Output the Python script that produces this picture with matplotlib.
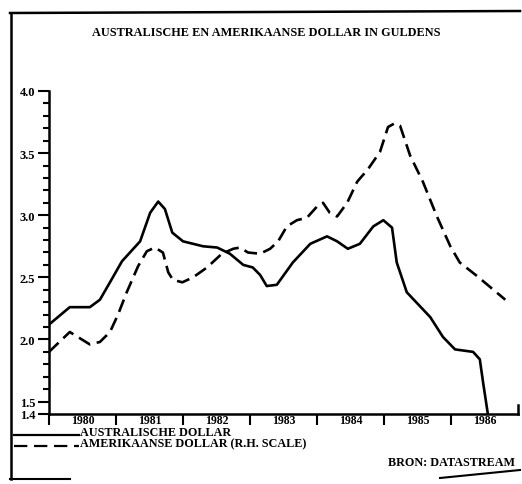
import matplotlib
matplotlib.use('Agg')
import matplotlib.pyplot as plt
from matplotlib.lines import Line2D

# data (year, guilders)
aud_years = [1980.00, 1980.31, 1980.61, 1980.76, 1980.91, 1981.09, 1981.36, 1981.51, 1981.63,
             1981.73, 1981.84, 1982.00, 1982.30, 1982.51, 1982.70, 1982.90, 1983.04, 1983.15,
             1983.25, 1983.40, 1983.64, 1983.90, 1984.15, 1984.30, 1984.46, 1984.64, 1984.84,
             1984.99, 1985.12, 1985.19, 1985.34, 1985.69, 1985.88, 1986.06, 1986.33, 1986.43,
             1986.48, 1986.55]
aud_vals = [2.12, 2.26, 2.26, 2.32, 2.46, 2.63, 2.79, 3.02, 3.11,
            3.05, 2.86, 2.79, 2.75, 2.74, 2.69, 2.60, 2.58, 2.52,
            2.43, 2.44, 2.62, 2.77, 2.83, 2.79, 2.73, 2.77, 2.91,
            2.96, 2.90, 2.62, 2.38, 2.18, 2.02, 1.92, 1.90, 1.84,
            1.65, 1.40]

usd_years = [1980.00, 1980.31, 1980.61, 1980.76, 1980.91, 1981.03, 1981.16, 1981.33, 1981.46,
             1981.58, 1981.70, 1981.78, 1981.85, 1981.99, 1982.15, 1982.36, 1982.58, 1982.75,
             1982.85, 1982.97, 1983.15, 1983.30, 1983.42, 1983.55, 1983.70, 1983.85, 1984.00,
             1984.09, 1984.19, 1984.30, 1984.45, 1984.60, 1984.76, 1984.94, 1985.06, 1985.16,
             1985.24, 1985.39, 1985.58, 1985.79, 1985.99, 1986.13, 1986.39, 1986.81]
usd_vals = [1.90, 2.06, 1.96, 1.98, 2.06, 2.20, 2.38, 2.59, 2.71,
            2.74, 2.70, 2.54, 2.48, 2.46, 2.50, 2.58, 2.69, 2.73,
            2.74, 2.70, 2.69, 2.73, 2.79, 2.91, 2.96, 2.98, 3.07,
            3.10, 3.02, 2.99, 3.10, 3.27, 3.37, 3.51, 3.71, 3.74,
            3.72, 3.48, 3.27, 2.99, 2.75, 2.62, 2.51, 2.32]

year_labels = ['1980', '1981', '1982', '1983', '1984', '1985', '1986']
ytick_vals = [1.4, 1.5, 2.0, 2.5, 3.0, 3.5, 4.0]

plt.rcParams['font.family'] = ['Liberation Serif', 'DejaVu Serif']

fig = plt.figure(figsize=(5.22, 4.85), dpi=100)
ax = fig.add_axes([49/522, 1-415/485, 469/522, 323/485])

ax.plot(aud_years, aud_vals, color='black', lw=1.9, solid_capstyle='round',
        solid_joinstyle='round')
ax.plot(usd_years, usd_vals, color='black', lw=1.9, dashes=(5, 2.5))

ax.set_xlim(1980, 1987)
ax.set_ylim(1.4, 4.0)
for s in ['top', 'right']:
    ax.spines[s].set_visible(False)
ax.spines['left'].set_linewidth(1.8)
ax.spines['bottom'].set_linewidth(1.8)

ax.set_yticks(ytick_vals)
ax.set_yticklabels([f'{v:.1f}' for v in ytick_vals], fontsize=9, fontweight='bold')
ax.set_yticks([v/10 for v in range(14, 41)], minor=True)
ax.tick_params(axis='y', which='major', length=8, width=1.5, pad=2)
ax.tick_params(axis='y', which='minor', length=4, width=1.5)

ax.set_xticks(list(range(1980, 1987)))
ax.set_xticklabels([])
ax.set_xticks([1980.5 + i for i in range(7)], minor=True)
ax.set_xticklabels(year_labels, minor=True, fontsize=8.5, fontweight='bold')
ax.tick_params(axis='x', which='major', length=8, width=1.5)
ax.tick_params(axis='x', which='minor', length=0, pad=0)

# right end of the time axis
ax.plot([1987, 1987], [1.4, 1.47], color='black', lw=1.8, clip_on=False)

fig.text(266/522, 1-33/485, 'AUSTRALISCHE EN AMERIKAANSE DOLLAR IN GULDENS',
         ha='center', va='center', fontsize=8.8, fontweight='bold')

# legend
fig.add_artist(Line2D([14/522, 79/522], [1-436/485]*2, color='black', lw=1.6))
fig.text(80/522, 1-433/485, 'AUSTRALISCHE DOLLAR', ha='left', va='center',
         fontsize=8.7, fontweight='bold')
fig.add_artist(Line2D([14/522, 79/522], [1-447/485]*2, color='black', lw=1.6, dashes=(6, 3)))
fig.text(80/522, 1-444/485, 'AMERIKAANSE DOLLAR (R.H. SCALE)', ha='left', va='center',
         fontsize=8.7, fontweight='bold')
fig.text(515/522, 1-463/485, 'BRON: DATASTREAM', ha='right', va='center',
         fontsize=8.7, fontweight='bold')

# outer frame of the clipping
fig.add_artist(Line2D([11/522, 11/522], [1-14/485, 1-480/485], color='black', lw=1.8))
fig.add_artist(Line2D([10/522, 520/522], [1-14/485, 1-12/485], color='black', lw=1.8))
fig.add_artist(Line2D([10/522, 70/522], [1-480/485]*2, color='black', lw=1.5))
fig.add_artist(Line2D([440/522, 520/522], [1-479/485, 1-471/485], color='black', lw=1.5))

fig.savefig('out.png', dpi=100)
